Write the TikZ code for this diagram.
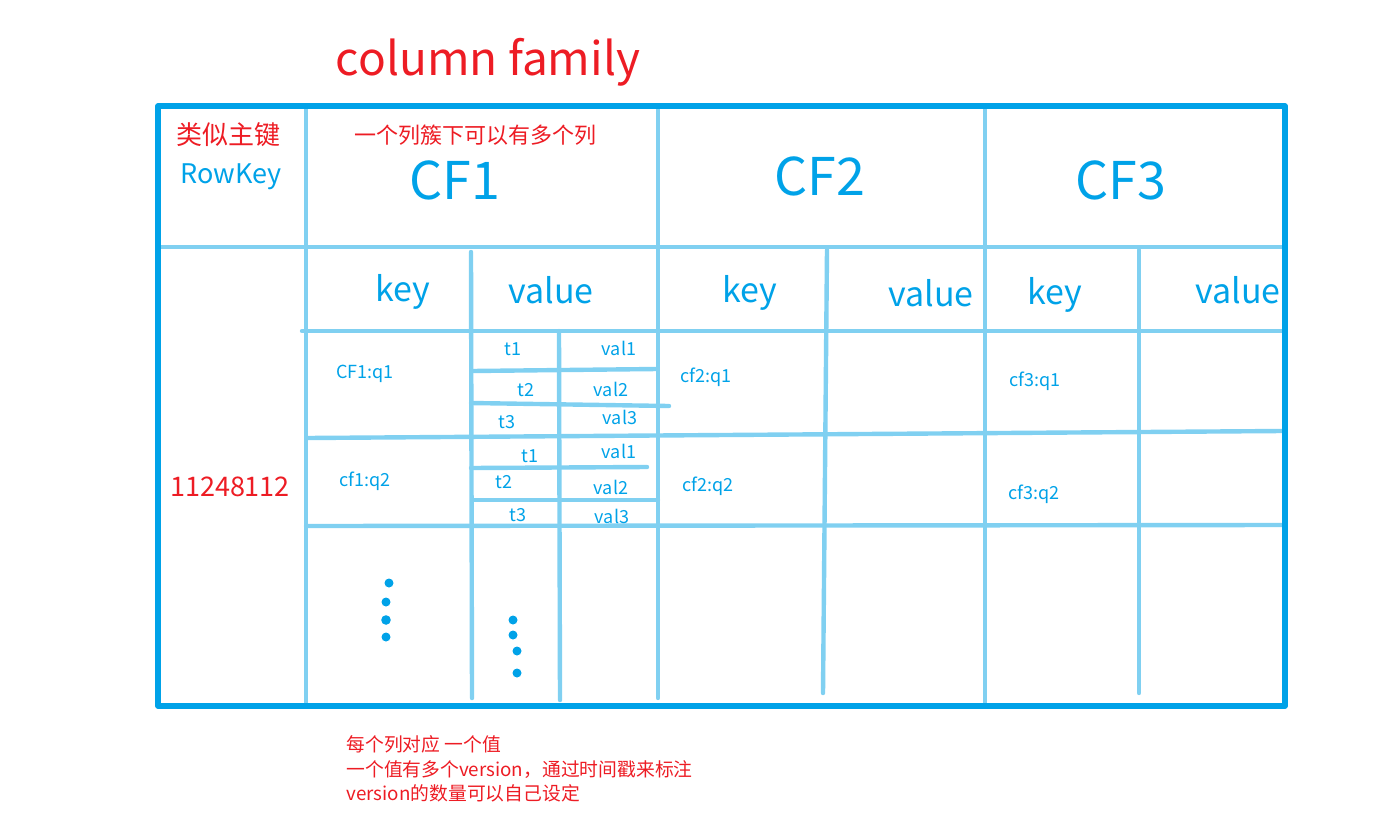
\documentclass[tikz,border=0pt]{standalone}
\usepackage{fontspec}
\setmainfont{Noto Sans CJK SC}
\definecolor{bblue}{HTML}{00A2E8}
\definecolor{lblue}{HTML}{80D0F1}
\definecolor{rred}{HTML}{ED1C24}
\tikzset{
  grid/.style={draw=lblue,line width=2.2pt,line cap=round},
  border/.style={draw=bblue,line width=2.6pt,line join=round},
  lbl/.style={inner sep=0pt,text=bblue},
  red/.style={inner sep=0pt,text=rred},
  big/.style={lbl,font=\fontsize{26}{30}\selectfont},
  hdr/.style={lbl,font=\fontsize{17}{20}\selectfont},
  small/.style={lbl,font=\fontsize{9}{10}\selectfont},
  dotc/.style={fill=bblue,draw=none}
}
\begin{document}
\begin{tikzpicture}[x=0.5pt,y=-0.5pt]
\useasboundingbox (0,0) rectangle (1388,836);
% inner grid lines
\draw[grid] (306,106) -- (306,706);
\draw[grid] (658,106) -- (658,698);
\draw[grid] (985,106) -- (985,706);
\draw[grid] (471,252) -- (472,698);
\draw[grid] (559,331) -- (560,700);
\draw[grid] (827,250) -- (823,693);
\draw[grid] (1139,250) -- (1139,693);
\draw[grid] (158,247) -- (1285,247);
\draw[grid] (302,331) -- (1285,331);
\draw[grid] (307,438) -- (1282,431);
\draw[grid] (306,526) -- (1285,525);
\draw[grid] (472,371) -- (657,369);
\draw[grid] (471,403) -- (669,406);
\draw[grid] (471,468) -- (647,467);
\draw[grid] (474,500) -- (658,500);
% outer border
\draw[border] (158,106) rectangle (1285,706);
% titles
\node[red,font=\fontsize{23}{27}\selectfont] (title) at (488,62) {column family};
\node[red,font=\fontsize{13}{15}\selectfont] (pk) at (228,135) {类似主键};
\node[lbl,font=\fontsize{13.5}{15}\selectfont] (rowkey) at (231,177) {RowKey};
\node[red,font=\fontsize{11}{13}\selectfont] (note1) at (475,135) {一个列簇下可以有多个列};
\node[big] (cf1) at (455,180) {CF1};
\node[big] (cf2) at (820,176) {CF2};
\node[big] (cf3) at (1121,180) {CF3};
% key/value headers
\node[hdr] (k1) at (403,292) {key};
\node[hdr] (v1) at (551,290) {value};
\node[hdr] (k2) at (750,293) {key};
\node[hdr] (v2) at (931,293) {value};
\node[hdr] (k3) at (1055,295) {key};
\node[hdr] (v3) at (1238,290) {value};
% qualifiers
\node[small] (q11) at (365,374) {CF1:q1};
\node[small] (q12) at (365,481) {cf1:q2};
\node[small] (q21) at (706,377) {cf2:q1};
\node[small] (q22) at (708,486) {cf2:q2};
\node[small] (q31) at (1035,381) {cf3:q1};
\node[small] (q32) at (1034,494) {cf3:q2};
% versions
\node[small] (ta1) at (513,349) {t1};
\node[small] (va1) at (619,348) {val1};
\node[small] (ta2) at (526,390) {t2};
\node[small] (va2) at (611,389) {val2};
\node[small] (ta3) at (507,422) {t3};
\node[small] (va3) at (620,417) {val3};
\node[small] (tb1) at (530,456) {t1};
\node[small] (vb1) at (619,451) {val1};
\node[small] (tb2) at (504,482) {t2};
\node[small] (vb2) at (611,487) {val2};
\node[small] (tb3) at (518,515) {t3};
\node[small] (vb3) at (612,516) {val3};
% row key value
\node[red,font=\fontsize{13.5}{16}\selectfont] (rk) at (230,487) {11248112};
% dots
\fill[dotc] (389,583) circle (4.5);
\fill[dotc] (386,602) circle (4.5);
\fill[dotc] (386,620) circle (4.8);
\fill[dotc] (386,637) circle (4.5);
\fill[dotc] (513,620) circle (4.5);
\fill[dotc] (513,635) circle (4.5);
\fill[dotc] (517,651) circle (4.5);
\fill[dotc] (517,673) circle (4.5);
% bottom notes
\node[red,anchor=west,align=left,font=\fontsize{9.4}{12.4}\selectfont] (note2) at (346,769)
  {每个列对应 一个值\\一个值有多个version，通过时间戳来标注\\version的数量可以自己设定};
\end{tikzpicture}
\end{document}
